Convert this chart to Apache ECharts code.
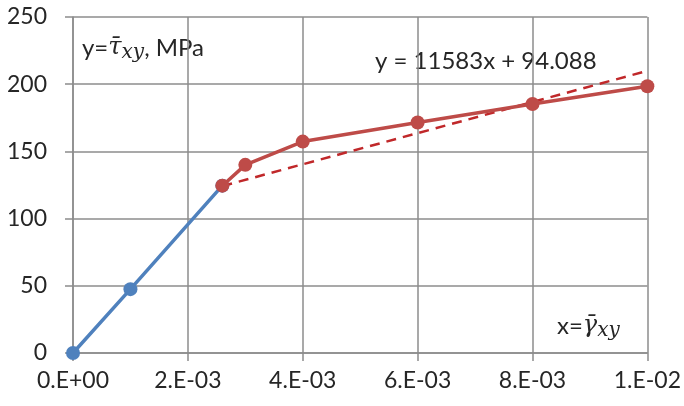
<!DOCTYPE html>
<html>
<head>
<meta charset="utf-8">
<script src="https://cdn.jsdelivr.net/npm/echarts@6/dist/echarts.min.js"></script>
<style>
  html, body { margin: 0; padding: 0; background: #fff; }
  #chart { width: 684px; height: 406px; }
</style>
</head>
<body>
<div id="chart"></div>
<script>
// Shear strain vs. shear stress: elastic branch (blue), post-yield branch (red)
const elasticStrain = [0, 0.001, 0.0026];
const elasticStress = [0, 47.5, 124.5];
const plasticStrain = [0.0026, 0.003, 0.004, 0.006, 0.008, 0.01];
const plasticStress = [124.5, 140, 157.3, 171.5, 185.3, 198.5];

// Linear trend of the post-yield branch: y = 11583x + 94.088
const trendSlope = 11583;
const trendIntercept = 94.088;
const trendRange = [0.0026, 0.01];

const xTickLabels = ['0.E+00', '2.E-03', '4.E-03', '6.E-03', '8.E-03', '1.E-02'];
const yTickLabels = ['0', '50', '100', '150', '200', '250'];

const font = 'Lato, "Open Sans", sans-serif';
const mathFont = '"DejaVu Serif", "Liberation Serif", serif';
const textColor = '#262626';
const gridColor = '#8c8c8c';

const pairs = (xs, ys) => xs.map((x, i) => [x, ys[i]]);
const trendData = trendRange.map(x => [x, trendSlope * x + trendIntercept]);

const mathRich = {
  n: { fontSize: 24, fontFamily: font, fill: textColor },
  i: { fontSize: 24, fontFamily: mathFont, fontStyle: 'italic', fill: textColor },
  s: { fontSize: 20, fontFamily: mathFont, fontStyle: 'italic', fill: textColor, padding: [9, 0, 0, 0] }
};

const chart = echarts.init(document.getElementById('chart'), null, { renderer: 'canvas' });
chart.setOption({
  animation: false,
  backgroundColor: '#ffffff',
  grid: { left: 73, top: 17, right: 34, bottom: 53 },
  xAxis: {
    type: 'value', min: 0, max: 0.01, interval: 0.002,
    axisLine: { show: true, lineStyle: { color: gridColor, width: 1.5 } },
    axisTick: { show: true, length: 8, lineStyle: { color: gridColor, width: 1.5 } },
    splitLine: { show: true, lineStyle: { color: gridColor, width: 1.5 } },
    axisLabel: {
      margin: 16, fontSize: 23, color: textColor, fontFamily: font,
      formatter: v => xTickLabels[Math.round(v / 0.002)]
    }
  },
  yAxis: {
    type: 'value', min: 0, max: 250, interval: 50,
    axisLine: { show: true, lineStyle: { color: gridColor, width: 1.5 } },
    axisTick: { show: true, length: 8, lineStyle: { color: gridColor, width: 1.5 } },
    splitLine: { show: true, lineStyle: { color: gridColor, width: 1.5 } },
    axisLabel: {
      margin: 26, fontSize: 23, color: textColor, fontFamily: font,
      formatter: v => yTickLabels[Math.round(v / 50)]
    }
  },
  series: [
    {
      type: 'line', data: pairs(elasticStrain, elasticStress),
      symbol: 'circle', symbolSize: 14,
      lineStyle: { color: '#4f81bd', width: 3.5 },
      itemStyle: { color: '#4f81bd' }, z: 2
    },
    {
      type: 'line', data: trendData, symbol: 'none',
      lineStyle: { color: '#c0282a', width: 2.5, type: [10, 7] }, z: 3
    },
    {
      type: 'line', data: pairs(plasticStrain, plasticStress),
      symbol: 'circle', symbolSize: 14,
      lineStyle: { color: '#be4b48', width: 3.5 },
      itemStyle: { color: '#be4b48' }, z: 4
    }
  ],
  graphic: [
    {
      type: 'text', left: 82, top: 36,
      style: { text: '{n|y=}{i|τ̄}{s|xy}{n|, MPa}', rich: mathRich }
    },
    {
      type: 'text', left: 375, top: 49,
      style: { text: 'y = 11583x + 94.088', fontSize: 24, fontFamily: font, fill: textColor }
    },
    {
      type: 'text', left: 557, top: 314,
      style: { text: '{n|x=}{i|γ̄}{s|xy}', rich: mathRich }
    }
  ]
});
</script>
</body>
</html>
